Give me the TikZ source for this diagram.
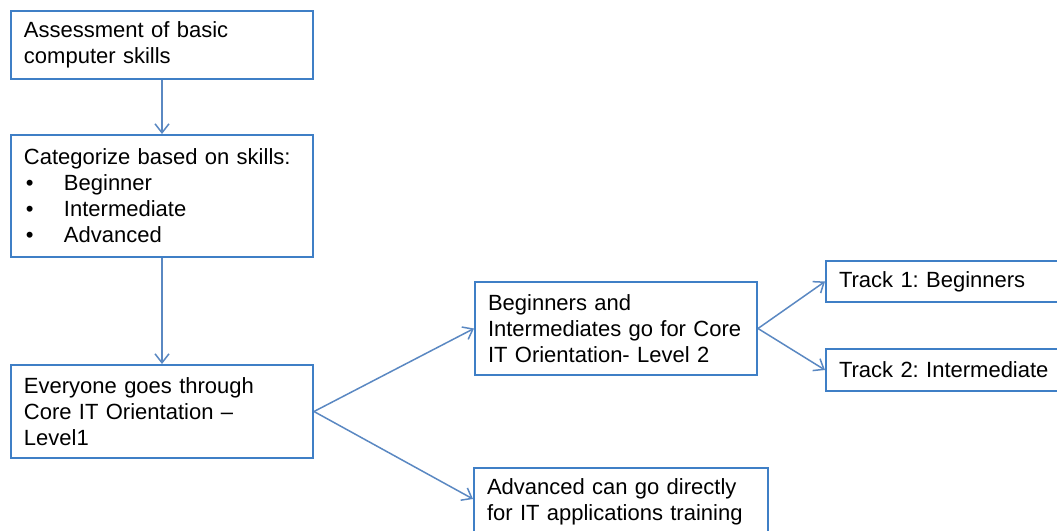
\documentclass[tikz,border=0pt]{standalone}
\usepackage{fontspec}
\setmainfont{Liberation Sans}
\usetikzlibrary{positioning,arrows.meta}
\definecolor{boxline}{HTML}{3F7FC6}
\definecolor{arrline}{HTML}{5A88C2}
\newcommand{\bitem}[1]{\makebox[20pt][l]{\hspace{1pt}\textbullet}#1}
\frenchspacing

\begin{document}
\begin{tikzpicture}[x=0.5pt, y=0.5pt,
  stage/.style={draw=boxline, line width=1pt, fill=white, align=left, anchor=north west, inner xsep=6.5pt, inner ysep=0pt, font=\fontsize{11}{13}\selectfont},
  arr/.style={-{Straight Barb[length=4.5pt,width=7pt]}, line width=0.75pt, color=arrline}
]
\clip (0,0) rectangle (1057,-531);

% left column
\node[stage, text width=138pt, minimum height=34pt] (assess) at (10,-10) {Assessment of basic\\computer skills};
\node[stage, text width=138pt, minimum height=61pt, below=27pt of assess] (sort) {Categorize based on skills:\\\bitem{Beginner}\\\bitem{Intermediate}\\\bitem{Advanced}};
\node[stage, text width=138pt, minimum height=46.5pt, below=53pt of sort] (level1) {Everyone goes through\\Core IT Orientation --\\Level1};

% branches
\node[stage, text width=128pt, minimum height=46.5pt] (level2) at (474,-281) {Beginners and\\Intermediates go for Core\\IT Orientation- Level 2};
\node[stage, text width=134pt, minimum height=34pt] (direct) at (473,-467) {Advanced can go directly\\for IT applications training};
\node[stage, text width=125pt, minimum height=20.5pt] (track1) at (825,-260) {Track 1: Beginners};
\node[stage, text width=125pt, minimum height=21pt] (track2) at (825,-348) {Track 2: Intermediate};

\draw[arr] (assess) -- (sort);
\draw[arr] (sort) -- (level1);
\draw[arr] (level1.east) -- (level2.west);
\draw[arr] (level1.east) -- ([yshift=1.5pt]direct.west);
\draw[arr] (level2.east) -- (track1.west);
\draw[arr] (level2.east) -- (track2.west);
\end{tikzpicture}
\end{document}
